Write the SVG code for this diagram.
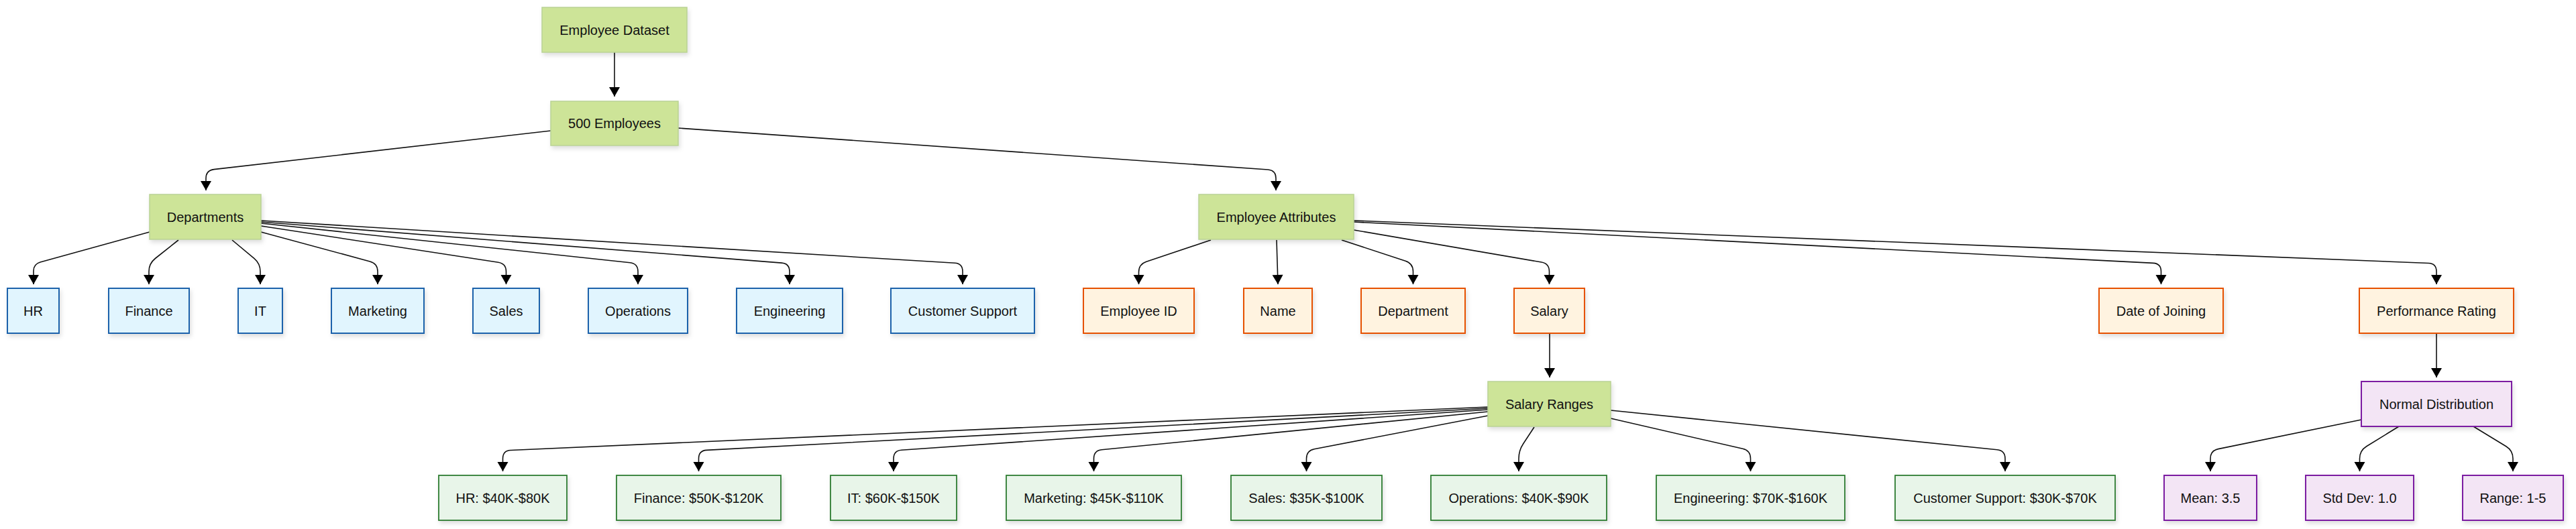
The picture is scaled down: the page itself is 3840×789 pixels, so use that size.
<svg xmlns="http://www.w3.org/2000/svg" width="3840" height="789" viewBox="0 0 3840 789">
<style>
  text { font-family: "Liberation Sans", Arial, sans-serif; font-size: 20px; fill: #111; text-anchor: middle; }
  .main rect { fill: #cde498; stroke: #b9d295; stroke-width: 1.5; }
  .dept rect { fill: #e1f5fe; stroke: #1a62ab; stroke-width: 2; }
  .attr rect { fill: #fff3e0; stroke: #e65100; stroke-width: 2; }
  .sal rect { fill: #e8f5e9; stroke: #2e7d32; stroke-width: 1.8; }
  .perf rect { fill: #f3e5f5; stroke: #7b1fa2; stroke-width: 2; }
  .node rect { filter: url(#shadow); }
  #edges path { fill: none; stroke: #111; stroke-width: 1.6; marker-end: url(#arrow); }
</style>
<defs>
  <filter id="shadow" x="-20%" y="-20%" width="140%" height="160%">
    <feDropShadow dx="2" dy="4" stdDeviation="3" flood-color="#000" flood-opacity="0.13"/>
  </filter>
  <marker id="arrow" markerUnits="userSpaceOnUse" markerWidth="20" markerHeight="20" viewBox="0 -10 16 20" refX="14" refY="0" orient="auto">
    <path d="M0,-8 L14,0 L0,8 z" fill="#000"/>
  </marker>
</defs>
<rect width="3840" height="789" fill="#fff"/>
<g id="edges">
  <path d="M916,78 L916,144"/>
  <path d="M821,195 L319,252.6 Q307,254 307,266 L307,284"/>
  <path d="M1011,191 L1890,253 Q1902,254 1902,266 L1902,284"/>
  <path d="M223,346 L60,391 Q50,394 50,404 L50,424"/>
  <path d="M266,358 L231.4,385.5 Q222,393 222,405 L222,424"/>
  <path d="M346,358 L378.8,385.3 Q388,393 388,405 L388,424"/>
  <path d="M389,346 L551.4,389.9 Q563,393 563,405 L563,424"/>
  <path d="M389,337 L742.6,391.2 Q754.5,393 754.5,405 L754.5,424"/>
  <path d="M389,333 L939.1,391.7 Q951,393 951,405 L951,424"/>
  <path d="M389,331 L1165,392.1 Q1177,393 1177,405 L1177,424"/>
  <path d="M389,329 L1423,392.3 Q1435,393 1435,405 L1435,424"/>
  <path d="M1805,358 L1708.9,390.2 Q1697.5,394 1697.5,406 L1697.5,424"/>
  <path d="M1903,358 L1905,424"/>
  <path d="M2000,358 L2095.1,389.3 Q2106.5,393 2106.5,405 L2106.5,424"/>
  <path d="M2018,343 L2297.7,391 Q2309.5,393 2309.5,405 L2309.5,424"/>
  <path d="M2018,331 L3209.5,392.4 Q3221.5,393 3221.5,405 L3221.5,424"/>
  <path d="M2018,329 L3620,392.5 Q3632,393 3632,405 L3632,424"/>
  <path d="M2310,497 L2310,563"/>
  <path d="M3632,497 L3632,563"/>
  <path d="M2218,607 L761.5,671.5 Q749.5,672 749.5,684 L749.5,703"/>
  <path d="M2218,609 L1053.5,671.4 Q1041.5,672 1041.5,684 L1041.5,703"/>
  <path d="M2218,611 L1344,671.2 Q1332,672 1332,684 L1332,703"/>
  <path d="M2218,614 L1642.4,670.8 Q1630.5,672 1630.5,684 L1630.5,703"/>
  <path d="M2218,620 L1959.3,669.7 Q1947.5,672 1947.5,684 L1947.5,703"/>
  <path d="M2287,637 L2270.6,662 Q2264,672 2264,684 L2264,703"/>
  <path d="M2401,624 L2597.8,669.3 Q2609.5,672 2609.5,684 L2609.5,703"/>
  <path d="M2401,612 L2977,670.8 Q2989,672 2989,684 L2989,703"/>
  <path d="M3520,626 L3306.8,669.6 Q3295,672 3295,684 L3295,703"/>
  <path d="M3576,636 L3527.7,665.7 Q3517.5,672 3517.5,684 L3517.5,703"/>
  <path d="M3687,636 L3735.8,665.7 Q3746,672 3746,684 L3746,703"/>
</g>
<g id="n-dataset" class="node main"><rect x="808" y="11" width="216" height="67"/><text x="916" y="51.5">Employee Dataset</text></g>
<g id="n-500" class="node main"><rect x="821" y="151" width="190" height="66"/><text x="916" y="191">500 Employees</text></g>
<g id="n-departments" class="node main"><rect x="223" y="290" width="166" height="67"/><text x="306" y="330.5">Departments</text></g>
<g id="n-attributes" class="node main"><rect x="1787" y="290" width="231" height="67"/><text x="1902.5" y="330.5">Employee Attributes</text></g>

<g id="n-hr" class="node dept"><rect x="11" y="430" width="77" height="67"/><text x="49.5" y="470.5">HR</text></g>
<g id="n-finance" class="node dept"><rect x="162" y="430" width="120" height="67"/><text x="222" y="470.5">Finance</text></g>
<g id="n-it" class="node dept"><rect x="355" y="430" width="66" height="67"/><text x="388" y="470.5">IT</text></g>
<g id="n-marketing" class="node dept"><rect x="494" y="430" width="138" height="67"/><text x="563" y="470.5">Marketing</text></g>
<g id="n-sales" class="node dept"><rect x="705" y="430" width="99" height="67"/><text x="754.5" y="470.5">Sales</text></g>
<g id="n-operations" class="node dept"><rect x="877" y="430" width="148" height="67"/><text x="951" y="470.5">Operations</text></g>
<g id="n-engineering" class="node dept"><rect x="1098" y="430" width="158" height="67"/><text x="1177" y="470.5">Engineering</text></g>
<g id="n-support" class="node dept"><rect x="1328" y="430" width="214" height="67"/><text x="1435" y="470.5">Customer Support</text></g>

<g id="n-empid" class="node attr"><rect x="1615" y="430" width="165" height="67"/><text x="1697.5" y="470.5">Employee ID</text></g>
<g id="n-name" class="node attr"><rect x="1854" y="430" width="102" height="67"/><text x="1905" y="470.5">Name</text></g>
<g id="n-department" class="node attr"><rect x="2029" y="430" width="155" height="67"/><text x="2106.5" y="470.5">Department</text></g>
<g id="n-salary" class="node attr"><rect x="2257" y="430" width="105" height="67"/><text x="2309.5" y="470.5">Salary</text></g>
<g id="n-doj" class="node attr"><rect x="3129" y="430" width="185" height="67"/><text x="3221.5" y="470.5">Date of Joining</text></g>
<g id="n-perf" class="node attr"><rect x="3517" y="430" width="230" height="67"/><text x="3632" y="470.5">Performance Rating</text></g>

<g id="n-salranges" class="node main"><rect x="2218" y="569" width="183" height="67"/><text x="2309.5" y="609.5">Salary Ranges</text></g>
<g id="n-normal" class="node perf"><rect x="3520" y="569" width="224" height="67"/><text x="3632" y="609.5">Normal Distribution</text></g>

<g id="n-s-hr" class="node sal"><rect x="654" y="709" width="191" height="67"/><text x="749.5" y="749.5">HR: $40K-$80K</text></g>
<g id="n-s-finance" class="node sal"><rect x="919" y="709" width="245" height="67"/><text x="1041.5" y="749.5">Finance: $50K-$120K</text></g>
<g id="n-s-it" class="node sal"><rect x="1238" y="709" width="188" height="67"/><text x="1332" y="749.5">IT: $60K-$150K</text></g>
<g id="n-s-marketing" class="node sal"><rect x="1500" y="709" width="261" height="67"/><text x="1630.5" y="749.5">Marketing: $45K-$110K</text></g>
<g id="n-s-sales" class="node sal"><rect x="1835" y="709" width="225" height="67"/><text x="1947.5" y="749.5">Sales: $35K-$100K</text></g>
<g id="n-s-operations" class="node sal"><rect x="2133" y="709" width="262" height="67"/><text x="2264" y="749.5">Operations: $40K-$90K</text></g>
<g id="n-s-engineering" class="node sal"><rect x="2469" y="709" width="281" height="67"/><text x="2609.5" y="749.5">Engineering: $70K-$160K</text></g>
<g id="n-s-support" class="node sal"><rect x="2825" y="709" width="328" height="67"/><text x="2989" y="749.5">Customer Support: $30K-$70K</text></g>

<g id="n-mean" class="node perf"><rect x="3226" y="709" width="138" height="67"/><text x="3295" y="749.5">Mean: 3.5</text></g>
<g id="n-stddev" class="node perf"><rect x="3437" y="709" width="161" height="67"/><text x="3517.5" y="749.5">Std Dev: 1.0</text></g>
<g id="n-range" class="node perf"><rect x="3671" y="709" width="150" height="67"/><text x="3746" y="749.5">Range: 1-5</text></g>
</svg>
